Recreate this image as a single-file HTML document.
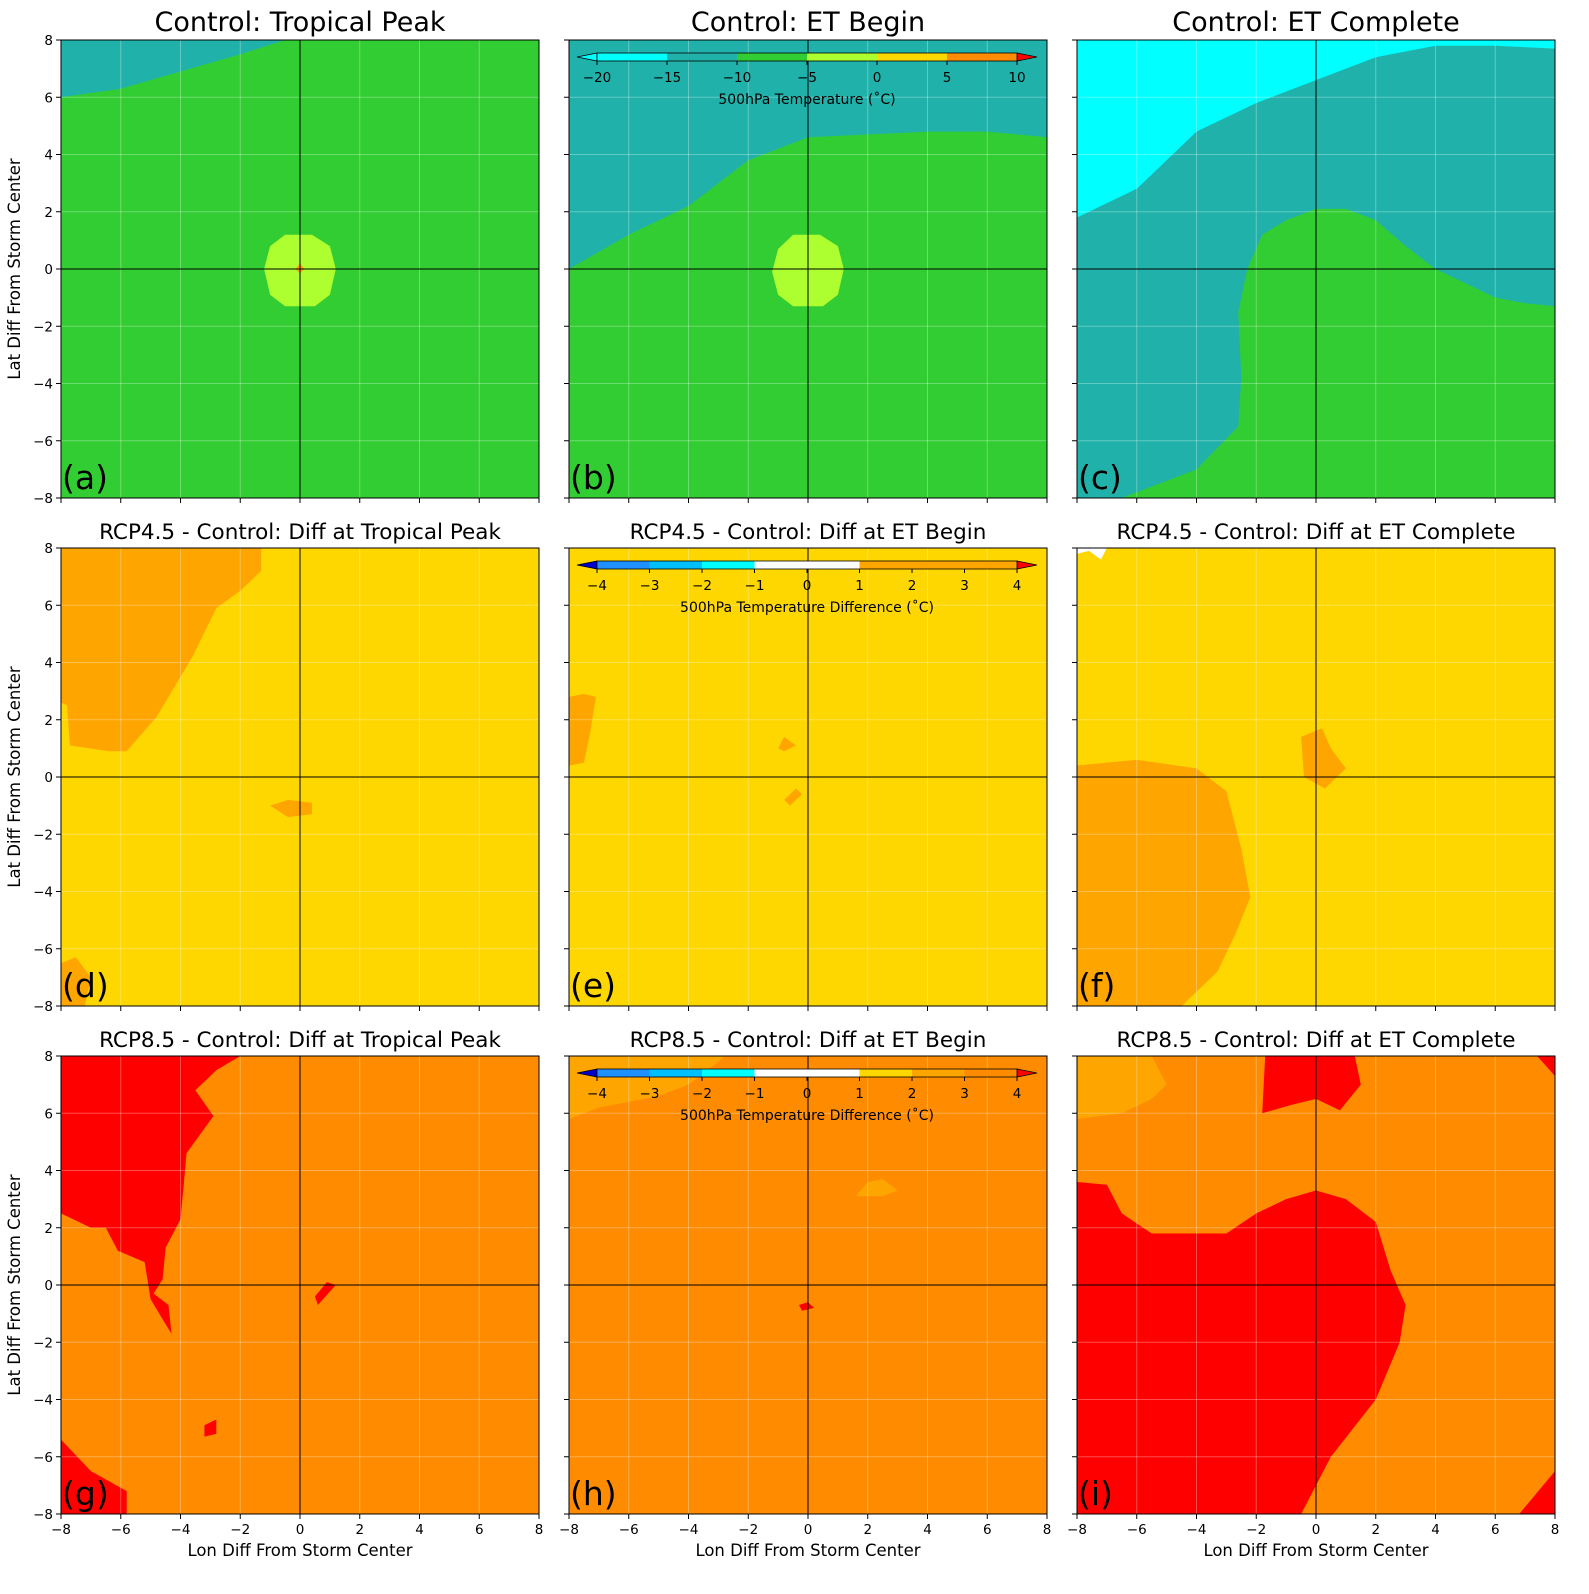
<!DOCTYPE html>
<html><head><meta charset="utf-8"><style>
body{margin:0;background:#fff;}
svg{font-family:"DejaVu Sans","Liberation Sans",sans-serif;}
</style></head><body>
<svg id="fig" width="1589" height="1589" viewBox="0 0 1589 1589" xmlns="http://www.w3.org/2000/svg"></svg>
<script>
// ---- data ----
const xTicks=[-8,-6,-4,-2,0,2,4,6,8];
const yTicks=[-8,-6,-4,-2,0,2,4,6,8];
const titles=["Control: Tropical Peak","Control: ET Begin","Control: ET Complete",
"RCP4.5 - Control: Diff at Tropical Peak","RCP4.5 - Control: Diff at ET Begin","RCP4.5 - Control: Diff at ET Complete",
"RCP8.5 - Control: Diff at Tropical Peak","RCP8.5 - Control: Diff at ET Begin","RCP8.5 - Control: Diff at ET Complete"];
const letters=["(a)","(b)","(c)","(d)","(e)","(f)","(g)","(h)","(i)"];
const bgColors=["#32CD32","#20B2AA","#20B2AA","#FFD700","#FFD700","#FFD700","#FF8C00","#FF8C00","#FF8C00"];
// filled regions [panel, color, [[lon,lat],...]]
const regions=[
[0,"#20B2AA",[[-8,8],[-8,6],[-6,6.3],[-4,6.9],[-2,7.5],[-0.5,8]]],
[0,"#ADFF2F",[[-1.2,0],[-1,0.8],[-0.5,1.2],[0.4,1.2],[1,0.8],[1.2,0],[1,-0.9],[0.5,-1.3],[-0.5,-1.3],[-1,-0.9]]],
[0,"#FFA500",[[-0.15,0],[0,0.2],[0.15,0],[0,-0.15]]],
[1,"#32CD32",[[-8,-8],[-8,0],[-6,1.2],[-4,2.2],[-2,3.8],[0,4.6],[2,4.7],[4,4.8],[6,4.8],[8,4.6],[8,-8]]],
[1,"#ADFF2F",[[-1.2,-0.1],[-1,0.7],[-0.5,1.2],[0.4,1.2],[1,0.8],[1.2,0],[1,-0.9],[0.5,-1.3],[-0.5,-1.3],[-1,-0.9]]],
[2,"#00FFFF",[[-8,8],[-8,1.8],[-6,2.8],[-4,4.8],[-2,5.8],[0,6.6],[2,7.4],[4,7.8],[6,7.8],[8,7.7],[8,8]]],
[2,"#32CD32",[[-6.5,-8],[-4,-7],[-2.6,-5.5],[-2.5,-3.8],[-2.6,-1.5],[-2.3,0],[-1.8,1.2],[-1,1.7],[0,2.1],[1,2.1],[2,1.7],[3,0.8],[4,0],[5,-0.5],[6,-1],[7,-1.2],[8,-1.3],[8,-8]]],
[3,"#FFA500",[[-8,8],[-1.3,8],[-1.3,7.2],[-2,6.5],[-2.8,5.9],[-3.6,4.2],[-4.8,2.1],[-5.8,0.9],[-6.4,0.9],[-7.7,1.1],[-7.8,2.5],[-8,2.6]]],
[3,"#FFA500",[[-1,-1],[-0.4,-0.8],[0.4,-0.9],[0.4,-1.3],[-0.4,-1.4]]],
[3,"#FFA500",[[-8,-8],[-8,-6.5],[-7.5,-6.3],[-7,-7],[-7.2,-8]]],
[4,"#FFA500",[[-8,0.4],[-7.5,0.5],[-7.3,1.5],[-7.1,2.8],[-7.5,2.9],[-8,2.8]]],
[4,"#FFA500",[[-1,1],[-0.8,1.4],[-0.4,1.1],[-0.8,0.9]]],
[4,"#FFA500",[[-0.8,-0.8],[-0.4,-0.4],[-0.2,-0.6],[-0.6,-1]]],
[5,"#FFA500",[[-8,0.4],[-6,0.6],[-4,0.3],[-3,-0.5],[-2.5,-2.5],[-2.2,-4.2],[-2.7,-5.5],[-3.3,-6.8],[-4.5,-8],[-8,-8]]],
[5,"#FFA500",[[-0.4,0],[-0.5,1.4],[0.2,1.7],[0.5,1],[1,0.3],[0.3,-0.4]]],
[5,"#FFFFFF",[[-8,8],[-8,7.8],[-7.6,7.9],[-7.2,7.6],[-7,8]]],
[6,"#FF0000",[[-8,8],[-2,8],[-2.8,7.5],[-3.5,6.8],[-2.9,5.9],[-3.8,4.6],[-3.9,3.4],[-4,2.3],[-4.5,1.3],[-4.6,0.2],[-4.9,-0.3],[-4.4,-0.7],[-4.3,-1.7],[-4.6,-1.2],[-5,-0.5],[-5.2,0.8],[-6.1,1.2],[-6.5,2],[-7,2],[-8,2.5]]],
[6,"#FF0000",[[-8,-8],[-8,-5.4],[-7,-6.5],[-5.8,-7.2],[-5.8,-8]]],
[6,"#FF0000",[[-3.2,-5.3],[-2.8,-5.2],[-2.8,-4.7],[-3.2,-4.9]]],
[6,"#FF0000",[[0.6,-0.7],[1.2,0],[0.9,0.1],[0.5,-0.4]]],
[7,"#FFA500",[[-8,8],[-8,5.8],[-7,6.2],[-5,6.6],[-4,7],[-3,7.8],[-2.8,8]]],
[7,"#FFA500",[[1.6,3.1],[2,3.6],[2.5,3.7],[3,3.3],[2.5,3.1]]],
[7,"#FF0000",[[-0.3,-0.7],[0,-0.6],[0.2,-0.8],[-0.2,-0.9]]],
[8,"#FFA500",[[-8,8],[-8,5.8],[-6.5,6],[-5.5,6.5],[-5,7],[-5.5,8]]],
[8,"#FF0000",[[-1.7,8],[-1.8,6],[-0.8,6.3],[0,6.5],[0.8,6.1],[1.5,7],[1.3,8]]],
[8,"#FF0000",[[7.4,8],[8,7.3],[8,8]]],
[8,"#FF0000",[[-8,3.6],[-7,3.5],[-6.5,2.5],[-5.5,1.8],[-3,1.8],[-2,2.5],[-1,3],[0,3.3],[1,3],[2,2.2],[2.5,0.5],[3,-0.7],[2.8,-2],[2,-4],[0.5,-6],[0,-7],[-0.5,-8],[-8,-8]]],
[8,"#FF0000",[[6.8,-8],[8,-6.5],[8,-8]]]
];
// colorbars
const cbTempBounds=[-20,-15,-10,-5,0,5,10];
const cbTempColors=["#00FFFF","#20B2AA","#32CD32","#ADFF2F","#FFD700","#FF8C00"];
const cbTempTicks=[-20,-15,-10,-5,0,5,10];
const cbDiffBounds=[-4,-3,-2,-1,1,2,3,4];
const cbDiffColorsE=["#1E90FF","#00BFFF","#00FFFF","#FFFFFF","#FFA500","#FFA500","#FFA500"];
const cbDiffColorsH=["#1E90FF","#00BFFF","#00FFFF","#FFFFFF","#FFD700","#FFA500","#FF8C00"];
const cbDiffTicks=[-4,-3,-2,-1,0,1,2,3,4];

// ---- layout ----
const NS="http://www.w3.org/2000/svg";
const svg=document.getElementById('fig');
function mk(tag,attrs,parent){const e=document.createElementNS(NS,tag);for(const k in attrs)e.setAttribute(k,attrs[k]);(parent||svg).appendChild(e);return e;}
const colX=[61,569,1077], rowY=[40,548,1056], W=478, H=458;
function sx(c,v){return colX[c]+(v+8)/16*W;}
function sy(r,v){return rowY[r]+(8-v)/16*H;}

for(let p=0;p<9;p++){
  const c=p%3,r=Math.floor(p/3);
  const g=mk('g',{});
  
  
  const clipId='clip'+p;
  const cp=mk('clipPath',{id:clipId},g);mk('rect',{x:colX[c],y:rowY[r],width:W,height:H},cp);
  const bg=mk('rect',{x:colX[c],y:rowY[r],width:W,height:H,fill:bgColors[p]},g);
  
  const inner=mk('g',{'clip-path':'url(#'+clipId+')'},g);
  regions.filter(d=>d[0]===p).forEach(d=>{
    const pts=d[2].map(q=>sx(c,q[0]).toFixed(1)+','+sy(r,q[1]).toFixed(1)).join(' ');
    const pg=mk('polygon',{points:pts,fill:d[1]},inner);
    
  });
  xTicks.forEach(t=>{mk('line',{x1:sx(c,t),x2:sx(c,t),y1:rowY[r],y2:rowY[r]+H,stroke:'#fff',"stroke-opacity":0.3,"stroke-width":1},inner);});
  yTicks.forEach(t=>{mk('line',{y1:sy(r,t),y2:sy(r,t),x1:colX[c],x2:colX[c]+W,stroke:'#fff',"stroke-opacity":0.3,"stroke-width":1},inner);});
  const vl=mk('line',{x1:sx(c,0),x2:sx(c,0),y1:rowY[r],y2:rowY[r]+H,stroke:'#000','stroke-width':1},g);
  
  const hl=mk('line',{y1:sy(r,0),y2:sy(r,0),x1:colX[c],x2:colX[c]+W,stroke:'#000','stroke-width':1},g);
  
  mk('rect',{x:colX[c],y:rowY[r],width:W,height:H,fill:'none',stroke:'#000','stroke-width':1},g);
  xTicks.forEach(t=>{mk('line',{x1:sx(c,t),x2:sx(c,t),y1:rowY[r]+H,y2:rowY[r]+H+5,stroke:'#000'},g);
    if(r===2){const tx=mk('text',{x:sx(c,t),y:rowY[r]+H+20,'font-size':13.5,'text-anchor':'middle'},g);tx.textContent=(t<0?'\u2212'+(-t):t);
      }});
  yTicks.forEach(t=>{mk('line',{x1:colX[c]-5,x2:colX[c],y1:sy(r,t),y2:sy(r,t),stroke:'#000'},g);
    if(c===0){const tx=mk('text',{x:colX[c]-8,y:sy(r,t)+5,'font-size':13.5,'text-anchor':'end'},g);tx.textContent=(t<0?'\u2212'+(-t):t);
      }});
  const ti=mk('text',{x:colX[c]+W/2,y:rowY[r]-9,'font-size':r===0?27:21.5,'text-anchor':'middle'},g);
  ti.textContent=titles[p];
  const lt=mk('text',{x:colX[c]+1,y:rowY[r]+H-9,'font-size':33},g);
  lt.textContent=letters[p];
  if(c===0){const yl=mk('text',{x:0,y:0,'font-size':16.5,'text-anchor':'middle',transform:'translate(20,'+(rowY[r]+H/2)+') rotate(-90)'},g);
    yl.textContent='Lat Diff From Storm Center';}
  if(r===2){const xl=mk('text',{x:colX[c]+W/2,y:rowY[r]+H+42,'font-size':16.5,'text-anchor':'middle'},g);
    xl.textContent='Lon Diff From Storm Center';}
}

function colorbar(x0,x1,y,bounds,colors,ticks,lowC,highC,label,name){
  const g=mk('g',{});
  const h=8,lo=bounds[0],hi=bounds[bounds.length-1];
  const f=v=>x0+(v-lo)/(hi-lo)*(x1-x0);
  mk('polygon',{points:`${x0},${y} ${x0-20},${y+h/2} ${x0},${y+h}`,fill:lowC,stroke:'#000','stroke-width':0.8},g);
  mk('polygon',{points:`${x1},${y} ${x1+20},${y+h/2} ${x1},${y+h}`,fill:highC,stroke:'#000','stroke-width':0.8},g);
  for(let i=0;i<colors.length;i++){mk('rect',{x:f(bounds[i]),y:y,width:f(bounds[i+1])-f(bounds[i]),height:h,fill:colors[i]},g);}
  mk('rect',{x:x0,y:y,width:x1-x0,height:h,fill:'none',stroke:'#000','stroke-width':0.8},g);
  ticks.forEach(t=>{mk('line',{x1:f(t),x2:f(t),y1:y+h,y2:y+h+4,stroke:'#000'},g);
    const tx=mk('text',{x:f(t),y:y+h+21,'font-size':13.5,'text-anchor':'middle'},g);tx.textContent=(t<0?'\u2212'+(-t):t);});
  const lb=mk('text',{x:(x0+x1)/2,y:y+h+43,'font-size':14,'text-anchor':'middle'},g);lb.textContent=label;
}
colorbar(597,1017,53,cbTempBounds,cbTempColors,cbTempTicks,'#00FFFF','#FF0000','500hPa Temperature (\u02DAC)','temperature-colorbar');
colorbar(597,1017,561,cbDiffBounds,cbDiffColorsE,cbDiffTicks,'#0000CD','#FF0000','500hPa Temperature Difference (\u02DAC)','difference-colorbar-rcp45');
colorbar(597,1017,1069,cbDiffBounds,cbDiffColorsH,cbDiffTicks,'#0000CD','#FF0000','500hPa Temperature Difference (\u02DAC)','difference-colorbar-rcp85');
</script>
</body></html>
